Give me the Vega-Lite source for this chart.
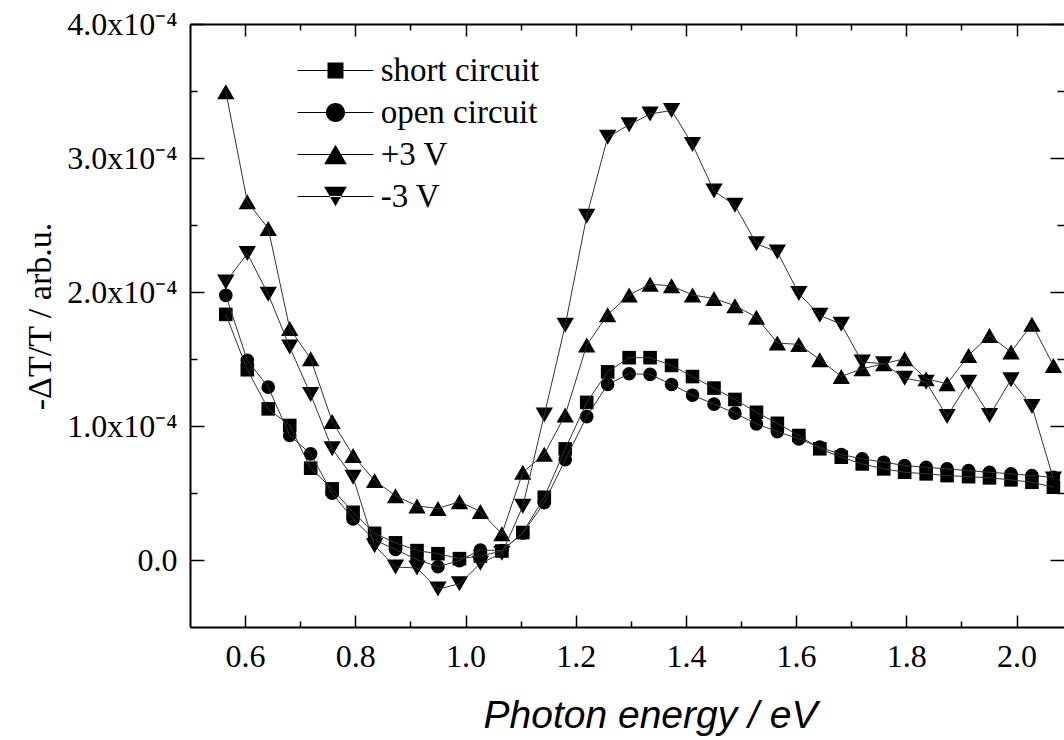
{
  "$schema": "https://vega.github.io/schema/vega-lite/v6.json",
  "autosize": "none",
  "width": 874,
  "height": 603,
  "padding": {"left": 190, "top": 24, "right": 0, "bottom": 113},
  "config": {
    "view": {"stroke": null},
    "axis": {"labelFont": "Liberation Serif", "labelFontSize": 32, "labelColor": "black", "domainColor": "black", "domainWidth": 2, "ticks": false, "grid": true, "gridColor": "black", "gridOpacity": 1, "gridWidth": 1.5, "titleColor": "black", "titleFontWeight": "normal", "labelOverlap": false, "labelFlush": false, "labelBound": false}
  },
  "data": {"values": [
    {"e":0.565,"s":"short circuit","v":1.833e-4},{"e":0.604,"s":"short circuit","v":1.42e-4},{"e":0.642,"s":"short circuit","v":1.128e-4},{"e":0.681,"s":"short circuit","v":1.004e-4},{"e":0.719,"s":"short circuit","v":0.685e-4},{"e":0.758,"s":"short circuit","v":0.531e-4},{"e":0.796,"s":"short circuit","v":0.356e-4},{"e":0.835,"s":"short circuit","v":0.199e-4},{"e":0.873,"s":"short circuit","v":0.128e-4},{"e":0.912,"s":"short circuit","v":0.07e-4},{"e":0.950,"s":"short circuit","v":0.047e-4},{"e":0.989,"s":"short circuit","v":0.01e-4},{"e":1.027,"s":"short circuit","v":0.03e-4},{"e":1.066,"s":"short circuit","v":0.067e-4},{"e":1.104,"s":"short circuit","v":0.205e-4},{"e":1.143,"s":"short circuit","v":0.468e-4},{"e":1.181,"s":"short circuit","v":0.829e-4},{"e":1.220,"s":"short circuit","v":1.176e-4},{"e":1.258,"s":"short circuit","v":1.404e-4},{"e":1.297,"s":"short circuit","v":1.51e-4},{"e":1.335,"s":"short circuit","v":1.51e-4},{"e":1.374,"s":"short circuit","v":1.452e-4},{"e":1.412,"s":"short circuit","v":1.369e-4},{"e":1.451,"s":"short circuit","v":1.283e-4},{"e":1.489,"s":"short circuit","v":1.198e-4},{"e":1.528,"s":"short circuit","v":1.102e-4},{"e":1.566,"s":"short circuit","v":1.02e-4},{"e":1.605,"s":"short circuit","v":0.929e-4},{"e":1.643,"s":"short circuit","v":0.83e-4},{"e":1.682,"s":"short circuit","v":0.767e-4},{"e":1.720,"s":"short circuit","v":0.717e-4},{"e":1.759,"s":"short circuit","v":0.68e-4},{"e":1.797,"s":"short circuit","v":0.655e-4},{"e":1.836,"s":"short circuit","v":0.643e-4},{"e":1.874,"s":"short circuit","v":0.63e-4},{"e":1.913,"s":"short circuit","v":0.622e-4},{"e":1.951,"s":"short circuit","v":0.613e-4},{"e":1.990,"s":"short circuit","v":0.598e-4},{"e":2.028,"s":"short circuit","v":0.58e-4},{"e":2.067,"s":"short circuit","v":0.543e-4},
    {"e":0.565,"s":"open circuit","v":1.975e-4},{"e":0.604,"s":"open circuit","v":1.49e-4},{"e":0.642,"s":"open circuit","v":1.29e-4},{"e":0.681,"s":"open circuit","v":0.929e-4},{"e":0.719,"s":"open circuit","v":0.792e-4},{"e":0.758,"s":"open circuit","v":0.498e-4},{"e":0.796,"s":"open circuit","v":0.306e-4},{"e":0.835,"s":"open circuit","v":0.15e-4},{"e":0.873,"s":"open circuit","v":0.078e-4},{"e":0.912,"s":"open circuit","v":0.003e-4},{"e":0.950,"s":"open circuit","v":-0.05e-4},{"e":0.989,"s":"open circuit","v":-0.005e-4},{"e":1.027,"s":"open circuit","v":0.075e-4},{"e":1.066,"s":"open circuit","v":0.07e-4},{"e":1.104,"s":"open circuit","v":0.201e-4},{"e":1.143,"s":"open circuit","v":0.428e-4},{"e":1.181,"s":"open circuit","v":0.749e-4},{"e":1.220,"s":"open circuit","v":1.07e-4},{"e":1.258,"s":"open circuit","v":1.31e-4},{"e":1.297,"s":"open circuit","v":1.39e-4},{"e":1.335,"s":"open circuit","v":1.385e-4},{"e":1.374,"s":"open circuit","v":1.31e-4},{"e":1.412,"s":"open circuit","v":1.23e-4},{"e":1.451,"s":"open circuit","v":1.163e-4},{"e":1.489,"s":"open circuit","v":1.096e-4},{"e":1.528,"s":"open circuit","v":1.016e-4},{"e":1.566,"s":"open circuit","v":0.958e-4},{"e":1.605,"s":"open circuit","v":0.904e-4},{"e":1.643,"s":"open circuit","v":0.842e-4},{"e":1.682,"s":"open circuit","v":0.787e-4},{"e":1.720,"s":"open circuit","v":0.755e-4},{"e":1.759,"s":"open circuit","v":0.73e-4},{"e":1.797,"s":"open circuit","v":0.705e-4},{"e":1.836,"s":"open circuit","v":0.692e-4},{"e":1.874,"s":"open circuit","v":0.68e-4},{"e":1.913,"s":"open circuit","v":0.667e-4},{"e":1.951,"s":"open circuit","v":0.655e-4},{"e":1.990,"s":"open circuit","v":0.643e-4},{"e":2.028,"s":"open circuit","v":0.63e-4},{"e":2.067,"s":"open circuit","v":0.617e-4},
    {"e":0.565,"s":"+3 V","v":3.495e-4},{"e":0.604,"s":"+3 V","v":2.673e-4},{"e":0.642,"s":"+3 V","v":2.474e-4},{"e":0.681,"s":"+3 V","v":1.727e-4},{"e":0.719,"s":"+3 V","v":1.502e-4},{"e":0.758,"s":"+3 V","v":1.034e-4},{"e":0.796,"s":"+3 V","v":0.78e-4},{"e":0.835,"s":"+3 V","v":0.593e-4},{"e":0.873,"s":"+3 V","v":0.48e-4},{"e":0.912,"s":"+3 V","v":0.403e-4},{"e":0.950,"s":"+3 V","v":0.385e-4},{"e":0.989,"s":"+3 V","v":0.435e-4},{"e":1.027,"s":"+3 V","v":0.362e-4},{"e":1.066,"s":"+3 V","v":0.195e-4},{"e":1.104,"s":"+3 V","v":0.655e-4},{"e":1.143,"s":"+3 V","v":0.789e-4},{"e":1.181,"s":"+3 V","v":1.083e-4},{"e":1.220,"s":"+3 V","v":1.604e-4},{"e":1.258,"s":"+3 V","v":1.831e-4},{"e":1.297,"s":"+3 V","v":1.978e-4},{"e":1.335,"s":"+3 V","v":2.058e-4},{"e":1.374,"s":"+3 V","v":2.046e-4},{"e":1.412,"s":"+3 V","v":1.978e-4},{"e":1.451,"s":"+3 V","v":1.951e-4},{"e":1.489,"s":"+3 V","v":1.898e-4},{"e":1.528,"s":"+3 V","v":1.812e-4},{"e":1.566,"s":"+3 V","v":1.619e-4},{"e":1.605,"s":"+3 V","v":1.609e-4},{"e":1.643,"s":"+3 V","v":1.495e-4},{"e":1.682,"s":"+3 V","v":1.37e-4},{"e":1.720,"s":"+3 V","v":1.427e-4},{"e":1.759,"s":"+3 V","v":1.465e-4},{"e":1.797,"s":"+3 V","v":1.502e-4},{"e":1.836,"s":"+3 V","v":1.353e-4},{"e":1.874,"s":"+3 V","v":1.315e-4},{"e":1.913,"s":"+3 V","v":1.527e-4},{"e":1.951,"s":"+3 V","v":1.676e-4},{"e":1.990,"s":"+3 V","v":1.552e-4},{"e":2.028,"s":"+3 V","v":1.759e-4},{"e":2.067,"s":"+3 V","v":1.452e-4},
    {"e":0.565,"s":"-3 V","v":2.075e-4},{"e":0.604,"s":"-3 V","v":2.287e-4},{"e":0.642,"s":"-3 V","v":1.983e-4},{"e":0.681,"s":"-3 V","v":1.589e-4},{"e":0.719,"s":"-3 V","v":1.235e-4},{"e":0.758,"s":"-3 V","v":0.83e-4},{"e":0.796,"s":"-3 V","v":0.617e-4},{"e":0.835,"s":"-3 V","v":0.107e-4},{"e":0.873,"s":"-3 V","v":-0.052e-4},{"e":0.912,"s":"-3 V","v":-0.06e-4},{"e":0.950,"s":"-3 V","v":-0.217e-4},{"e":0.989,"s":"-3 V","v":-0.178e-4},{"e":1.027,"s":"-3 V","v":-0.025e-4},{"e":1.066,"s":"-3 V","v":0.05e-4},{"e":1.104,"s":"-3 V","v":0.401e-4},{"e":1.143,"s":"-3 V","v":1.083e-4},{"e":1.181,"s":"-3 V","v":1.751e-4},{"e":1.220,"s":"-3 V","v":2.566e-4},{"e":1.258,"s":"-3 V","v":3.155e-4},{"e":1.297,"s":"-3 V","v":3.248e-4},{"e":1.335,"s":"-3 V","v":3.328e-4},{"e":1.374,"s":"-3 V","v":3.355e-4},{"e":1.412,"s":"-3 V","v":3.101e-4},{"e":1.451,"s":"-3 V","v":2.753e-4},{"e":1.489,"s":"-3 V","v":2.647e-4},{"e":1.528,"s":"-3 V","v":2.36e-4},{"e":1.566,"s":"-3 V","v":2.299e-4},{"e":1.605,"s":"-3 V","v":1.988e-4},{"e":1.643,"s":"-3 V","v":1.826e-4},{"e":1.682,"s":"-3 V","v":1.759e-4},{"e":1.720,"s":"-3 V","v":1.477e-4},{"e":1.759,"s":"-3 V","v":1.465e-4},{"e":1.797,"s":"-3 V","v":1.357e-4},{"e":1.836,"s":"-3 V","v":1.327e-4},{"e":1.874,"s":"-3 V","v":1.071e-4},{"e":1.913,"s":"-3 V","v":1.327e-4},{"e":1.951,"s":"-3 V","v":1.078e-4},{"e":1.990,"s":"-3 V","v":1.345e-4},{"e":2.028,"s":"-3 V","v":1.146e-4},{"e":2.067,"s":"-3 V","v":0.605e-4}
  ]},
  "resolve": {"axis": {"x": "independent", "y": "independent"}, "scale": {"shape": "independent"}, "legend": {"shape": "independent"}},
  "layer": [
    {
      "mark": {"type": "point", "filled": true, "opacity": 1, "color": "black", "strokeWidth": 0},
      "encoding": {
        "x": {"field": "e", "type": "quantitative", "scale": {"domain": [0.5, 2.0862], "nice": false, "zero": false},
          "axis": {"orient": "bottom", "values": [0.6,0.8,1.0,1.2,1.4,1.6,1.8,2.0], "format": ".1f",
            "ticks": false, "grid": true, "gridDash": [12, 579, 12, 2000],
            "labelPadding": 14,
            "title": "Photon energy / eV", "titleFont": "Liberation Sans", "titleFontSize": 39, "titleFontStyle": "italic",
            "titleX": 460, "titleY": 100, "titleBaseline": "alphabetic", "titleAlign": "center", "titleAnchor": null}},
        "y": {"field": "v", "type": "quantitative", "scale": {"domain": [-0.00005, 0.0004], "nice": false, "zero": false},
          "axis": {"orient": "left", "values": [0,0.0001,0.0002,0.0003,0.0004],
            "labelExpr": "datum.value==0 ? '0.0' : format(datum.value*1e4,'.1f') + 'x10⁻⁴'",
            "ticks": false, "grid": true, "gridDash": [14, 846, 14, 2000],
            "labelPadding": 13,
            "title": "-ΔT/T / arb.u.", "titleFont": "Liberation Serif", "titleFontSize": 34,
            "titleX": -150, "titleY": 292, "titleAngle": -90, "titleBaseline": "middle", "titleAlign": "center", "titleAnchor": null}},
        "shape": {"field": "s", "type": "nominal",
          "scale": {"domain": ["short circuit","open circuit","+3 V","-3 V"], "range": ["square","circle","triangle-up","triangle-down"]},
          "legend": null},
        "size": {"condition": {"test": "datum.s=='+3 V' || datum.s=='-3 V'", "value": 300}, "value": 185}
      }
    },
    {
      "mark": {"type": "line", "color": "#333333", "strokeWidth": 1},
      "encoding": {
        "x": {"field": "e", "type": "quantitative",
          "axis": {"orient": "top", "values": [0.7,0.9,1.1,1.3,1.5,1.7,1.9], "labels": false, "title": null,
            "ticks": false, "grid": true, "gridDash": [6, 591, 6, 2000]}},
        "y": {"field": "v", "type": "quantitative",
          "axis": {"orient": "right", "values": [0.00005,0.00015,0.00025,0.00035], "labels": false, "title": null, "domain": false,
            "ticks": false, "grid": true, "gridDash": [7, 860, 7, 2000]}},
        "detail": {"field": "s"}
      }
    },
    {
      "transform": [{"filter": "false"}],
      "mark": {"type": "point", "filled": true, "color": "black", "opacity": 1},
      "encoding": {
        "shape": {"field": "s", "type": "nominal",
          "scale": {"domain": ["short circuit","open circuit","+3 V","-3 V"],
            "range": ["M-3.8,-0.05H3.8V0.05H-3.8ZM-0.8,-0.8H0.8V0.8H-0.8Z", "M-3.8,-0.05H3.8V0.05H-3.8ZM0.95,0A0.95,0.95,0,1,1,-0.95,0A0.95,0.95,0,1,1,0.95,0Z", "M-3.8,-0.05H3.8V0.05H-3.8ZM0,-0.983L1.135,0.983H-1.135Z", "M-3.8,-0.05H3.8V0.05H-3.8ZM0,0.983L1.135,-0.983H-1.135Z"]},
          "legend": {"orient": "none", "legendX": 129, "legendY": 30, "title": null, "padding": 0,
            "labelFont": "Liberation Serif", "labelFontSize": 33, "labelColor": "black", "labelOffset": 28.7, "rowPadding": 8,
            "symbolSize": 400, "symbolFillColor": "black", "symbolOpacity": 1}}
      }
    }
  ]
}
